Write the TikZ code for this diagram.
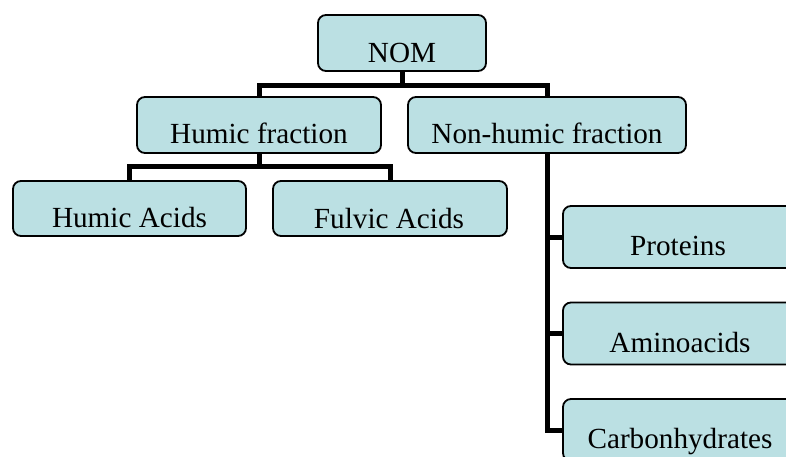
\documentclass[tikz,border=0pt]{standalone}
\usepackage{fontspec}
\setmainfont{Liberation Serif}
\definecolor{boxfill}{RGB}{187,224,227}
\begin{document}
\begin{tikzpicture}[x=1pt,y=-1pt,
  box/.style={draw=black,line width=1.8pt,fill=boxfill,rounded corners=8pt,inner sep=0pt,outer sep=0pt},
  lbl/.style={anchor=base,inner sep=0pt,font=\fontsize{29.2}{31}\selectfont},
  conn/.style={line width=5pt,draw=black}]
\useasboundingbox (0,0) rectangle (786,456);
\clip (0,0) rectangle (786,456);
\node[box,minimum width=168pt,minimum height=56pt] (nom) at (402,43) {};
\node[box,minimum width=244pt,minimum height=56pt] (hf) at (259,125) {};
\node[box,minimum width=278pt,minimum height=56pt] (nh) at (547,125) {};
\node[box,minimum width=233pt,minimum height=55pt] (ha) at (129.5,208.5) {};
\node[box,minimum width=234pt,minimum height=55pt] (fa) at (390,208.5) {};
\node[box,minimum width=250pt,minimum height=62pt] (pr) at (688,237) {};
\node[box,minimum width=250pt,minimum height=62pt] (am) at (688,333.5) {};
\node[box,minimum width=250pt,minimum height=62pt] (cb) at (688,430) {};
\coordinate (j1) at (402,85);
\coordinate (j2) at (259,166);
\draw[conn] (nom.south) -- (j1);
\draw[conn] (hf.north) |- (j1) -| (nh.north);
\draw[conn] (hf.south) -- (j2);
\draw[conn] (ha.north) |- (j2) -| (fa.north);
\draw[conn] (nh.south) |- (pr.west);
\draw[conn] (nh.south) |- (am.west);
\draw[conn] (nh.south) |- (cb.west);
\node[lbl] (tnom) at (402,62) {NOM};
\node[lbl] (thf) at (259,143) {Humic fraction};
\node[lbl] (tnh) at (547,143) {Non-humic fraction};
\node[lbl] (tha) at (129.5,227) {Humic Acids};
\node[lbl] (tfa) at (389,228) {Fulvic Acids};
\node[lbl] (tpr) at (678,255) {Proteins};
\node[lbl] (tam) at (680,352) {Aminoacids};
\node[lbl] (tcb) at (680,448) {Carbonhydrates};
\end{tikzpicture}
\end{document}
